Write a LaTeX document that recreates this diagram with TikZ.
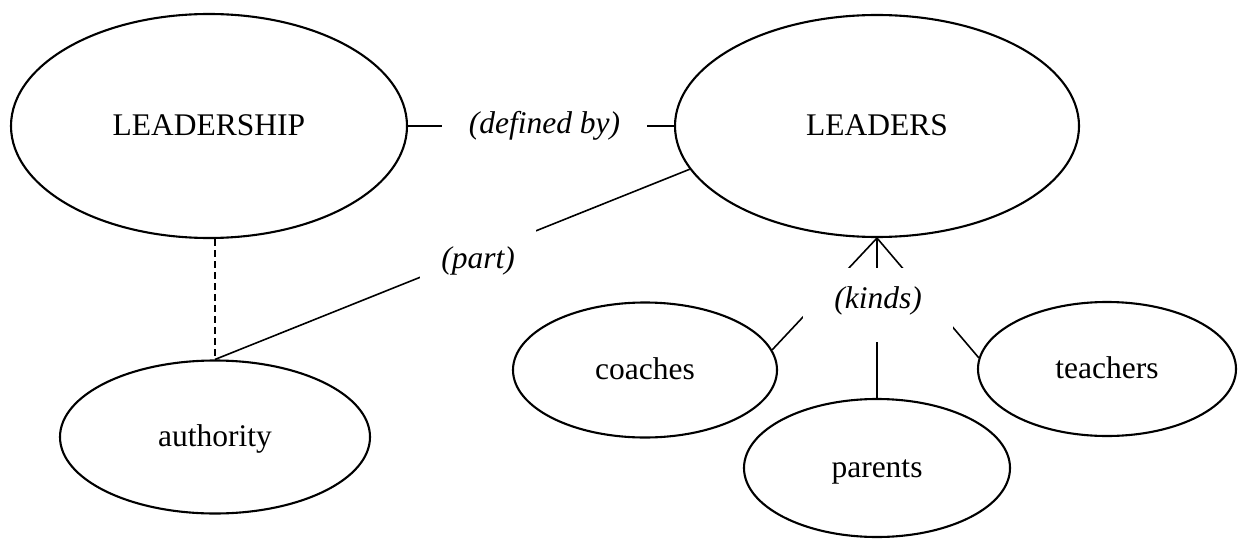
\documentclass[tikz,border=0pt]{standalone}
\usepackage{fontspec}
\setmainfont{Liberation Serif}
\usetikzlibrary{shapes.geometric}
\begin{document}
\begin{tikzpicture}[x=1pt,y=-1pt,
  every node/.style={font=\fontsize{31.5}{38}\selectfont},
  concept/.style={ellipse,draw,line width=2.1pt,inner sep=0pt,text height=22pt,text depth=3pt},
  relation/.style={fill=white,inner sep=0pt,font=\fontsize{31.5}{38}\selectfont\itshape,text height=22pt,text depth=3pt},
  conn/.style={line width=1.6pt}]
\useasboundingbox (0,0) rectangle (1238,540);
\node[concept,minimum width=396pt,minimum height=224pt] (leadership) at (209,126) {LEADERSHIP};
\node[concept,minimum width=404pt,minimum height=222pt] (leaders) at (877,126) {LEADERS};
\node[concept,minimum width=310pt,minimum height=153pt] (authority) at (215,437) {authority};
\node[concept,minimum width=264pt,minimum height=135pt] (coaches) at (645,370) {coaches};
\node[concept,minimum width=266pt,minimum height=138pt] (parents) at (877,468) {parents};
\node[concept,minimum width=258pt,minimum height=134pt] (teachers) at (1107,369) {teachers};
% connectors
\draw[conn] (leadership.east) -- (leaders.west);
\draw[conn] (authority.north) -- (leaders.193);
\draw[conn,dash pattern=on 6.5pt off 4.5pt] (leadership.south -| authority.north) -- (authority.north);
\draw[conn] (leaders.south) -- (coaches.9);
\draw[conn] (leaders.south) -- (parents.north);
\draw[conn] (leaders.south) -- (teachers.175);
% relation labels
\node[relation,minimum width=205pt,minimum height=50pt] (defined) at (544.5,124) {(defined by)};
\node[relation,minimum width=116pt,minimum height=64pt] (part) at (478,259) {(part)};
\node[relation,minimum width=150pt,minimum height=74pt,text depth=16pt] (kinds) at (878,305) {(kinds)};
\end{tikzpicture}
\end{document}
